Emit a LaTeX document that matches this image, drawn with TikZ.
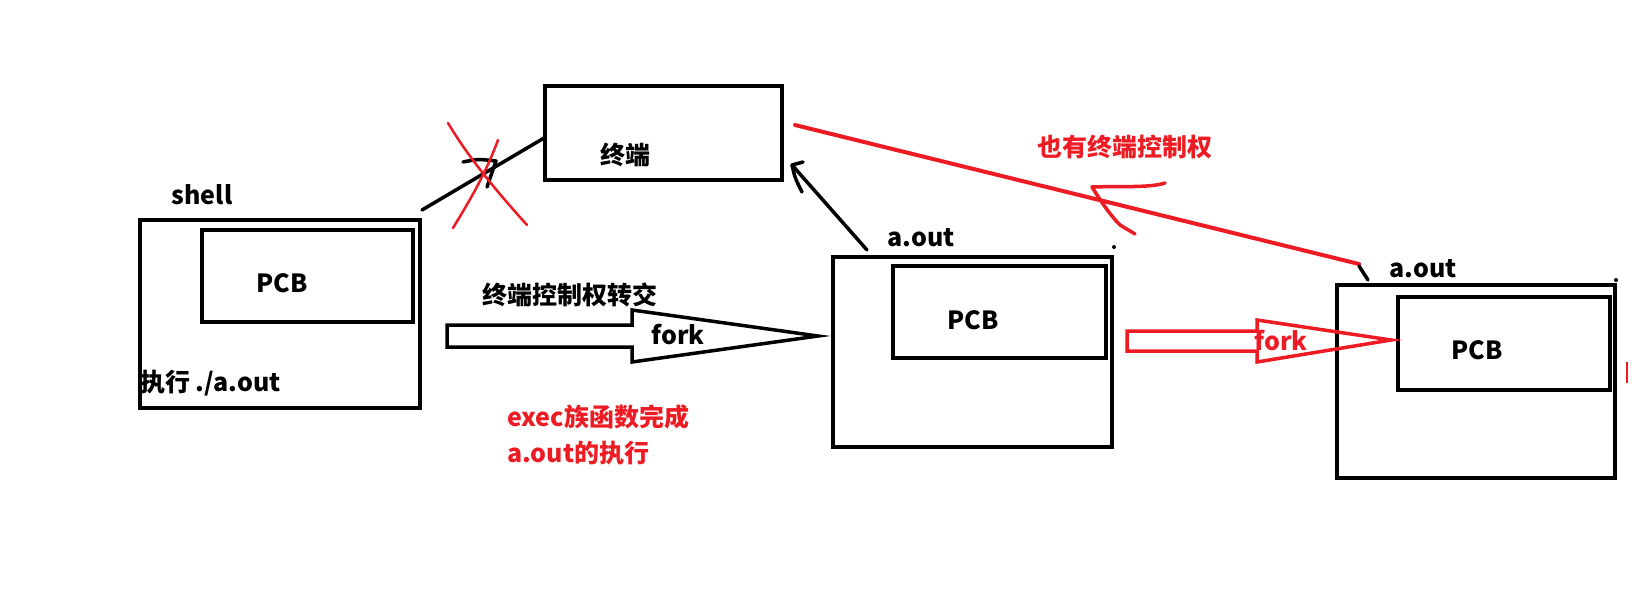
\documentclass[tikz,border=0pt]{standalone}
\usepackage{fontspec}
\setmainfont{Noto Sans CJK SC}
\definecolor{pred}{HTML}{ED1C24}
\begin{document}
\begin{tikzpicture}[x=1pt,y=-1pt,
  box/.style={draw=black,line width=4pt,inner sep=0pt,outer sep=0pt},
  lbl/.style={inner sep=0pt,font=\fontsize{25}{30}\selectfont\bfseries},
  rlbl/.style={lbl,text=pred},
  stroke/.style={line width=3.5pt,line cap=round,line join=round},
  rstroke/.style={stroke,draw=pred},
  fat/.style={line width=3.5pt,line join=miter}]
\useasboundingbox (0,0) rectangle (1644,598);
\fill[white] (0,0) rectangle (1644,598);
% boxes
\node[box,minimum width=280,minimum height=188] (shell) at (280,314) {};
\node[box,minimum width=211,minimum height=92] (pcb1) at (307.5,276) {};
\node[box,minimum width=237,minimum height=94] (term) at (663.5,133) {};
\node[box,minimum width=279,minimum height=190] (aout1) at (972.5,352) {};
\node[box,minimum width=213,minimum height=92] (pcb2) at (999.5,312) {};
\node[box,minimum width=278,minimum height=193] (aout2) at (1476,381.5) {};
\node[box,minimum width=212,minimum height=93] (pcb3) at (1504,343.5) {};
% texts
\node[lbl] (tshell) at (202,195) {shell};
\node[lbl] (tpcb1) at (282,283) {PCB};
\node[lbl,anchor=west] (texec) at (140,383) {执行 ./a.out};
\node[lbl] (tterm) at (625,155) {终端};
\node[lbl] (thand) at (570,295) {终端控制权转交};
\node[rlbl,anchor=west] (tfam1) at (507,417) {exec族函数完成};
\node[rlbl,anchor=west] (tfam2) at (507,453) {a.out的执行};
\node[lbl] (taout1) at (921,238) {a.out};
\node[lbl] (tpcb2) at (973,320) {PCB};
\node[rlbl] (talso) at (1125,147) {也有终端控制权};
\node[lbl] (taout2) at (1423,269) {a.out};
\node[lbl] (tpcb3) at (1477,350) {PCB};
% fat arrows
\draw[fat,draw=black] (447,325) -- (632,325) -- (632,310) -- (818,336) -- (632,362) -- (632,347) -- (447,347) -- cycle;
\node[lbl] (tfork1) at (678,335) {fork};
\draw[fat,draw=pred] (1127,331) -- (1257,331) -- (1257,320) -- (1391,340) -- (1257,362) -- (1257,351) -- (1127,351) -- cycle;
\node[rlbl] (tfork2) at (1281,341) {fork};
% shell -> terminal (crossed out)
\coordinate (s1) at (422,210);
\coordinate (t1) at (544,138);
\draw[stroke] (s1) -- (t1);
\draw[stroke] (463,162) .. controls (478,159) .. (496,161) -- (487,187);
\draw[rstroke,line width=2.5pt] (448,123) .. controls (470,160) and (500,195) .. (527,225);
\draw[rstroke,line width=2.5pt] (498,140) .. controls (485,175) and (470,200) .. (453,228);
% a.out -> terminal
\coordinate (a1) at (867,250);
\coordinate (t2) at (792,165);
\draw[stroke] (a1) -- (t2);
\draw[stroke] (803,162) -- (792,165) .. controls (795,178) .. (802,192);
% terminal -> child a.out (red)
\coordinate (t3) at (795,125);
\coordinate (a2) at (1359,264);
\draw[rstroke,line width=4pt] (t3) -- (a2);
\draw[stroke] (1359,266) -- (1368,280);
\draw[rstroke] (1165,183) .. controls (1150,188) and (1120,186) .. (1092,187) .. controls (1100,200) and (1110,215) .. (1120,225) -- (1135,234);
% small marks
\fill (1114,247) circle (2);
\fill (1616,280) circle (2);
\draw[pred,line width=1.2pt] (1627,362) -- (1627,383);
\end{tikzpicture}
\end{document}
